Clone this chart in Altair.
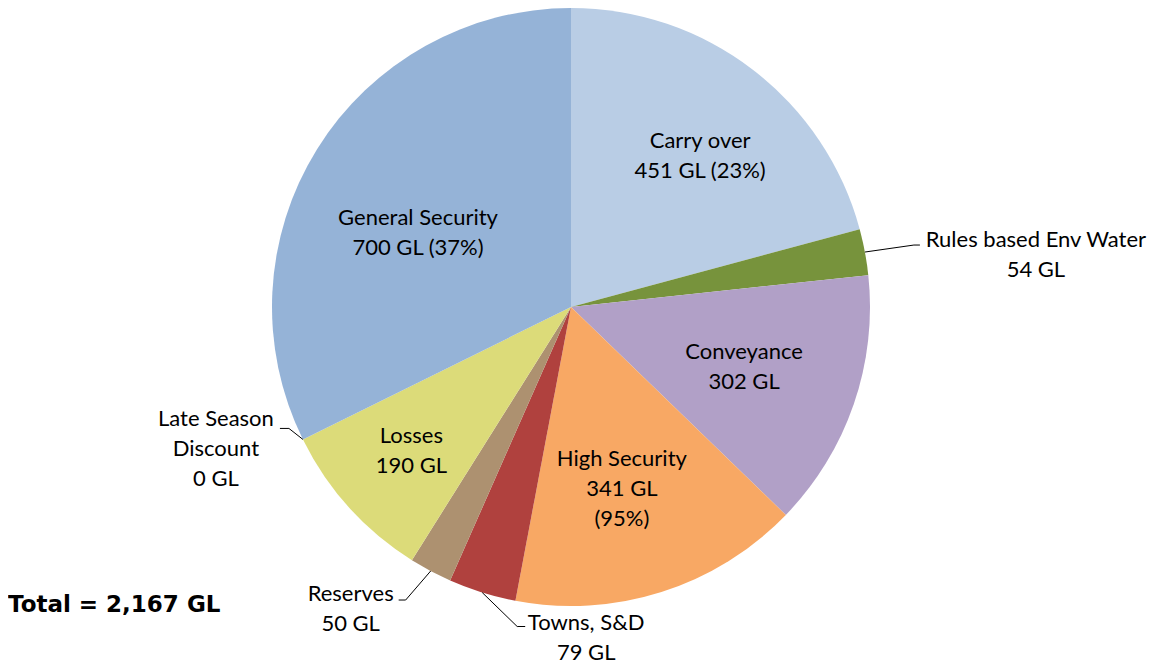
import math
import altair as alt
import pandas as pd

# ---- data ----
categories = ["Carry over", "Rules based Env Water", "Conveyance", "High Security",
              "Towns, S&D", "Reserves", "Losses", "Late Season Discount", "General Security"]
values = [451, 54, 302, 341, 79, 50, 190, 0, 700]
inside_labels = {"Carry over": "Carry over\n451 GL (23%)",
                 "Conveyance": "Conveyance\n302 GL",
                 "High Security": "High Security\n341 GL\n(95%)",
                 "Losses": "Losses\n190 GL",
                 "General Security": "General Security\n700 GL (37%)"}
outside_labels = {"Rules based Env Water": "Rules based Env Water\n54 GL",
                  "Late Season Discount": "Late Season\nDiscount\n0 GL",
                  "Reserves": "Reserves\n50 GL",
                  "Towns, S&D": "Towns, S&D\n79 GL"}
total_text = "Total = 2,167 GL"

# ---- styles ----
colors = ["#B9CDE5", "#77933C", "#B1A0C7", "#F8A864", "#B0413E", "#AD9170", "#DCDB79", "#DCDB79", "#95B3D7"]
W, H = 1140, 656
CX, CY, R = 563, 299, 299
LH = 30
# inside label: (radius from centre, angle nudge in degrees)
inside_style = {"Carry over": (199, 3), "Conveyance": (183, 0), "High Security": (189, 2),
                "Losses": (215, 0), "General Security": (170, -6)}
# leader elbow / end offsets from the slice edge point, and label-block centre offset from the leader end
leader_style = {
    "Rules based Env Water": ((49, -7), (55, -7), (116, 9.5)),
    "Late Season Discount": ((-14, -11), (-23, -11), (-64, 20.5)),
    "Reserves": ((-25, 29), (-32, 29), (-48, 9)),
    "Towns, S&D": ((35, 34), (43, 34), (61, 11)),
}
FONT = "Lato"
FS = 22

df = pd.DataFrame({
    "idx": list(range(len(categories))),
    "category": categories,
    "value": values,
})

total = sum(values)
lines_rows, text_rows = [], []
cum = 0
for c, v in zip(categories, values):
    mid = (cum + v / 2) / total * 2 * math.pi
    cum += v
    if c in inside_style:
        r, nudge = inside_style[c]
        a = mid + math.radians(nudge)
        txt = inside_labels[c]
        n = txt.count("\n") + 1
        text_rows.append({"category": c, "text": txt,
                          "px": CX + r * math.sin(a),
                          "py": CY - r * math.cos(a) - (n - 1) * LH / 2})
    if c in leader_style:
        (ex, ey), (fx, fy), (lx, ly) = leader_style[c]
        sx, sy = CX + R * math.sin(mid), CY - R * math.cos(mid)
        pts = [(sx, sy), (sx + ex, sy + ey), (sx + fx, sy + fy)]
        for k, (px, py) in enumerate(pts):
            lines_rows.append({"category": c, "k": k, "px": px, "py": py})
        txt = outside_labels[c]
        n = txt.count("\n") + 1
        text_rows.append({"category": c, "text": txt,
                          "px": sx + fx + lx, "py": sy + fy + ly - (n - 1) * LH / 2})
lines_df = pd.DataFrame(lines_rows)
text_df = pd.DataFrame(text_rows)

arcs = alt.Chart(df).mark_arc(radius=R, stroke=None).encode(
    theta=alt.Theta("value:Q", stack=True),
    order=alt.Order("idx:Q", sort="ascending"),
    color=alt.Color("category:N", scale=alt.Scale(domain=categories, range=colors), legend=None),
    x=alt.value(CX), y=alt.value(CY),
)

leaders = alt.Chart(lines_df).mark_line(color="#000000", strokeWidth=1).encode(
    x=alt.X("px:Q", scale=None, axis=None),
    y=alt.Y("py:Q", scale=None, axis=None),
    detail="category:N",
    order="k:Q",
)

labels = alt.Chart(text_df).mark_text(font=FONT, fontSize=FS, lineBreak="\n", lineHeight=LH,
                                      align="center", baseline="middle", color="#000000").encode(
    x=alt.X("px:Q", scale=None, axis=None),
    y=alt.Y("py:Q", scale=None, axis=None),
    text="text:N",
)

total_mark = alt.Chart(pd.DataFrame({"t": [total_text]})).mark_text(
    font="DejaVu Sans", fontWeight="bold", fontSize=23, align="left", baseline="alphabetic",
    color="#000000").encode(x=alt.value(0), y=alt.value(603.7), text="t:N")

chart = alt.layer(arcs, leaders, labels, total_mark).properties(
    width=W, height=H, padding=0, autosize="none"
).configure_view(stroke=None)

chart.save("out.html", embed_options={"renderer": "svg", "actions": False})
